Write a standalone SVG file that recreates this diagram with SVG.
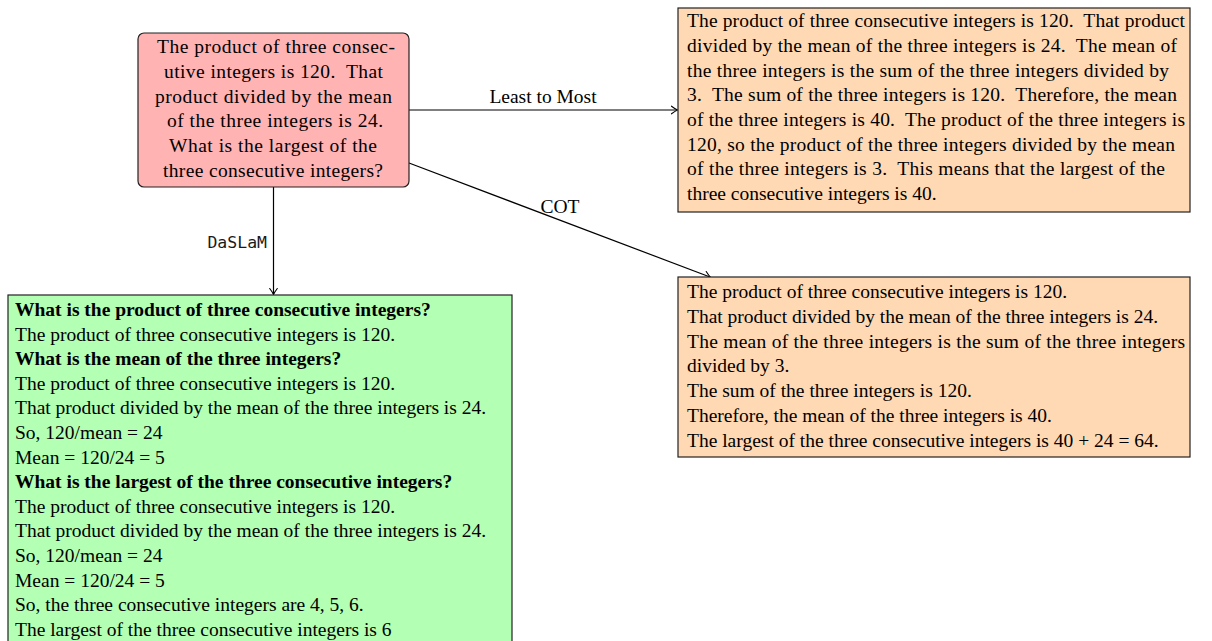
<svg xmlns="http://www.w3.org/2000/svg" width="1212" height="641" viewBox="0 0 1212 641">
<style>
  .t { font-family: "Liberation Serif", "Times New Roman", serif; font-size: 19.5px; fill: #000; white-space: pre; }
  .b { font-weight: bold; }
  .lbl { font-family: "Liberation Serif", "Times New Roman", serif; font-size: 19.5px; fill: #000; text-anchor: middle; }
  .mono { font-family: "DejaVu Sans Mono", "Liberation Mono", monospace; font-size: 16.5px; fill: #1a1a1a; text-anchor: end; }
  .edge { stroke: #000; stroke-width: 1.2; fill: none; marker-end: url(#tip); }
  .box { stroke: #222; stroke-width: 1.2; }
</style>
<defs>
  <marker id="tip" markerUnits="userSpaceOnUse" markerWidth="12" markerHeight="12" viewBox="-8 -6 10 12" refX="0" refY="0" orient="auto">
    <path d="M -5.5 -3.8 Q -1.5 -0.8 0.5 0 Q -1.5 0.8 -5.5 3.8" fill="none" stroke="#000" stroke-width="1.1" stroke-linecap="round"/>
  </marker>
</defs>
<rect width="1212" height="641" fill="#fff"/>

<g id="connectors">
  <line class="edge" x1="409" y1="110" x2="677" y2="110"/>
  <text class="lbl" x="543" y="103">Least to Most</text>
  <line class="edge" x1="409" y1="163" x2="710" y2="277"/>
  <text class="lbl" x="560" y="213">COT</text>
  <line class="edge" x1="273.5" y1="187" x2="273.5" y2="294"/>
  <text class="mono" x="267" y="248">DaSLaM</text>
</g>

<g id="question">
  <rect class="box" x="138" y="33" width="271" height="154" rx="6" fill="#FFB3B3"/>
  <text class="t" x="157" y="53" textLength="238" lengthAdjust="spacing">The product of three consec-</text>
  <text class="t" x="164" y="78" textLength="219" lengthAdjust="spacing">utive integers is 120.  That</text>
  <text class="t" x="155" y="103" textLength="237" lengthAdjust="spacing">product divided by the mean</text>
  <text class="t" x="167" y="127" textLength="216" lengthAdjust="spacing">of the three integers is 24.</text>
  <text class="t" x="169" y="152" textLength="208" lengthAdjust="spacing">What is the largest of the</text>
  <text class="t" x="163" y="177" textLength="220" lengthAdjust="spacing">three consecutive integers?</text>
</g>

<g id="least-to-most">
  <rect class="box" x="678" y="8" width="512" height="204" fill="#FFD9B3"/>
  <text class="t" x="687" y="27" textLength="498" lengthAdjust="spacing">The product of three consecutive integers is 120.  That product</text>
  <text class="t" x="687" y="52" textLength="490" lengthAdjust="spacing">divided by the mean of the three integers is 24.  The mean of</text>
  <text class="t" x="687" y="77" textLength="482" lengthAdjust="spacing">the three integers is the sum of the three integers divided by</text>
  <text class="t" x="687" y="101" textLength="490" lengthAdjust="spacing">3.  The sum of the three integers is 120.  Therefore, the mean</text>
  <text class="t" x="687" y="126" textLength="498" lengthAdjust="spacing">of the three integers is 40.  The product of the three integers is</text>
  <text class="t" x="687" y="151" textLength="488" lengthAdjust="spacing">120, so the product of the three integers divided by the mean</text>
  <text class="t" x="687" y="175" textLength="478" lengthAdjust="spacing">of the three integers is 3.  This means that the largest of the</text>
  <text class="t" x="687" y="200">three consecutive integers is 40.</text>
</g>

<g id="cot">
  <rect class="box" x="678" y="277" width="512" height="180" fill="#FFD9B3"/>
  <text class="t" x="687" y="298">The product of three consecutive integers is 120.</text>
  <text class="t" x="687" y="323">That product divided by the mean of the three integers is 24.</text>
  <text class="t" x="687" y="348" textLength="498" lengthAdjust="spacing">The mean of the three integers is the sum of the three integers</text>
  <text class="t" x="687" y="372">divided by 3.</text>
  <text class="t" x="687" y="397">The sum of the three integers is 120.</text>
  <text class="t" x="687" y="422">Therefore, the mean of the three integers is 40.</text>
  <text class="t" x="687" y="447">The largest of the three consecutive integers is 40 + 24 = 64.</text>
</g>

<g id="daslam">
  <rect class="box" x="8" y="295" width="504" height="360" fill="#B3FFB3"/>
  <text class="t b" x="15" y="316">What is the product of three consecutive integers?</text>
  <text class="t" x="15" y="341">The product of three consecutive integers is 120.</text>
  <text class="t b" x="15" y="365">What is the mean of the three integers?</text>
  <text class="t" x="15" y="390">The product of three consecutive integers is 120.</text>
  <text class="t" x="15" y="414">That product divided by the mean of the three integers is 24.</text>
  <text class="t" x="15" y="439">So, 120/mean = 24</text>
  <text class="t" x="15" y="464">Mean = 120/24 = 5</text>
  <text class="t b" x="15" y="488">What is the largest of the three consecutive integers?</text>
  <text class="t" x="15" y="513">The product of three consecutive integers is 120.</text>
  <text class="t" x="15" y="537">That product divided by the mean of the three integers is 24.</text>
  <text class="t" x="15" y="562">So, 120/mean = 24</text>
  <text class="t" x="15" y="587">Mean = 120/24 = 5</text>
  <text class="t" x="15" y="611">So, the three consecutive integers are 4, 5, 6.</text>
  <text class="t" x="15" y="636">The largest of the three consecutive integers is 6</text>
</g>
</svg>
